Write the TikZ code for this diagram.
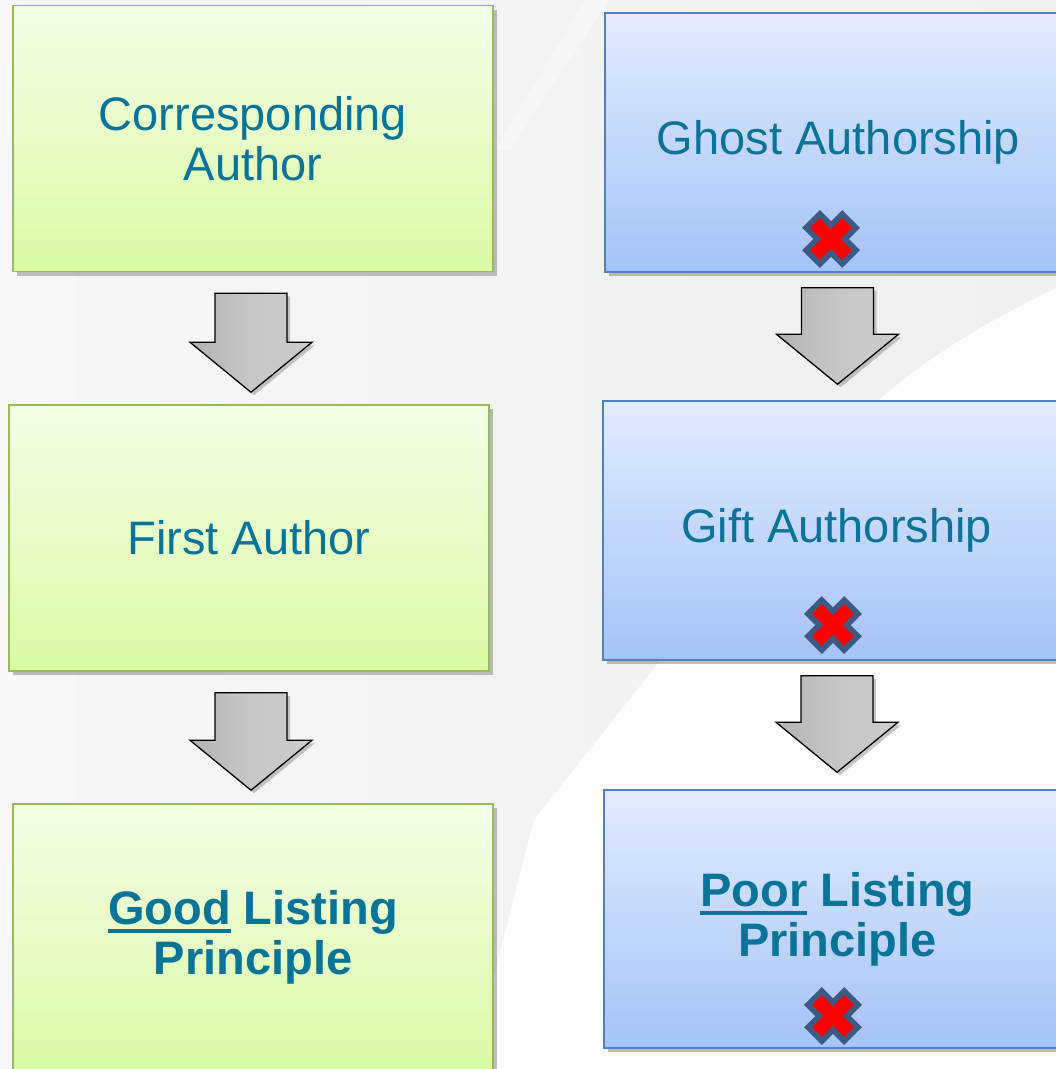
\documentclass[tikz,border=0pt]{standalone}
\usepackage{fontspec}
\setmainfont{Liberation Sans}
\usetikzlibrary{calc,shadows}
\definecolor{txt}{HTML}{0A7398}
\definecolor{gtop}{HTML}{F3FDE8}
\definecolor{gbot}{HTML}{DAFAA4}
\definecolor{gline}{HTML}{9BBB59}
\definecolor{btop}{HTML}{E3ECFD}
\definecolor{bbot}{HTML}{A5C3F7}
\definecolor{bline}{HTML}{4F81BD}
\definecolor{xline}{HTML}{3D5A85}
\definecolor{bgl}{HTML}{F7F7F7}
\definecolor{bgr}{HTML}{EDF0EF}
\definecolor{swoosh}{HTML}{FDFDFD}
\newcommand\ulbar[1]{\setbox0\hbox{#1}\rlap{\rule[-9pt]{\wd0}{4.5pt}}\box0\relax}
\newcommand\barrow[4]{%
  \coordinate (t) at ($(#1.south)+(0,#3)$);
  \coordinate (h) at ($(#2.north)+(0,-#4)$);
  \draw[blockarrow] let \p1=(t), \p2=(h), \n1={(\x1+\x2)/2} in
    ({\n1-36pt},\y1) -- ({\n1+36pt},\y1) -- ({\n1+36pt},{\y2+50pt}) -- ({\n1+61pt},{\y2+50pt})
    -- ({\n1+0pt},\y2) -- ({\n1-61pt},{\y2+50pt}) -- ({\n1-36pt},{\y2+50pt}) -- cycle;}
\begin{document}
\begin{tikzpicture}[x=1pt,y=-1pt,
  box/.style={rectangle, inner sep=0pt, align=center, text=txt,
    font=\fontsize{47pt}{50pt}\selectfont,
    line width=1.5pt,
    drop shadow={shadow xshift=4pt, shadow yshift=-4pt, opacity=0.35, fill=black!70}},
  gbox/.style={box, draw=gline, top color=gtop, bottom color=gbot,
    minimum width=480pt, minimum height=266pt},
  bbox/.style={box, draw=bline, top color=btop, bottom color=bbot,
    minimum width=467pt, minimum height=259pt},
  blockarrow/.style={draw=black, line width=1.3pt, line join=miter,
    left color=black!30, right color=black!20, middle color=black!22,
    drop shadow={shadow xshift=3pt, shadow yshift=-3pt, opacity=0.3, fill=black!70}},
  xmark/.pic={
    \begin{scope}[rotate=45]
      \path[draw=xline, fill=red, line width=5.5pt, line join=miter]
        (9.8,9.8) -- (25.6,9.8) -- (25.6,-9.8) -- (9.8,-9.8) -- (9.8,-25.6)
        -- (-9.8,-25.6) -- (-9.8,-9.8) -- (-25.6,-9.8) -- (-25.6,9.8)
        -- (-9.8,9.8) -- (-9.8,25.6) -- (9.8,25.6) -- cycle;
    \end{scope}}]
\useasboundingbox (0,0) rectangle (1056,1069);
% background
\fill[left color=bgl, right color=bgr] (0,0) rectangle (1056,1069);
\fill[swoosh] (1056,288) .. controls (990,320) and (930,355) .. (880,399)
  -- (655,667) -- (534,820) -- (470,1069) -- (1056,1069) -- cycle;
\fill[white, opacity=0.3] (585,0) -- (610,0) -- (510,150) -- (495,150) -- cycle;

% left column
\node[gbox] (ca) at (253,138.5) {Corresponding\\Author};
\node[gbox] (fa) at (249,538) {First Author};
\node[gbox] (gl) at (253,937) {\textbf{\ulbar{Good} Listing}\\\textbf{Principle}};

% right column
\node[bbox] (gh) at (838.5,142.5) {Ghost Authorship};
\node[bbox] (gi) at (836.5,530.5) {Gift Authorship};
\node[bbox, minimum height=258pt] (po) at (837.5,919) {\textbf{\ulbar{Poor} Listing}\\\textbf{Principle}};

% crosses
\pic at (831,239) {xmark};
\pic at (833,625) {xmark};
\pic at (833,1016) {xmark};

% block arrows
\barrow{ca}{fa}{21}{12}
\barrow{fa}{gl}{21}{13}
\barrow{gh}{gi}{15}{16}
\barrow{gi}{po}{15}{17}
\end{tikzpicture}
\end{document}
